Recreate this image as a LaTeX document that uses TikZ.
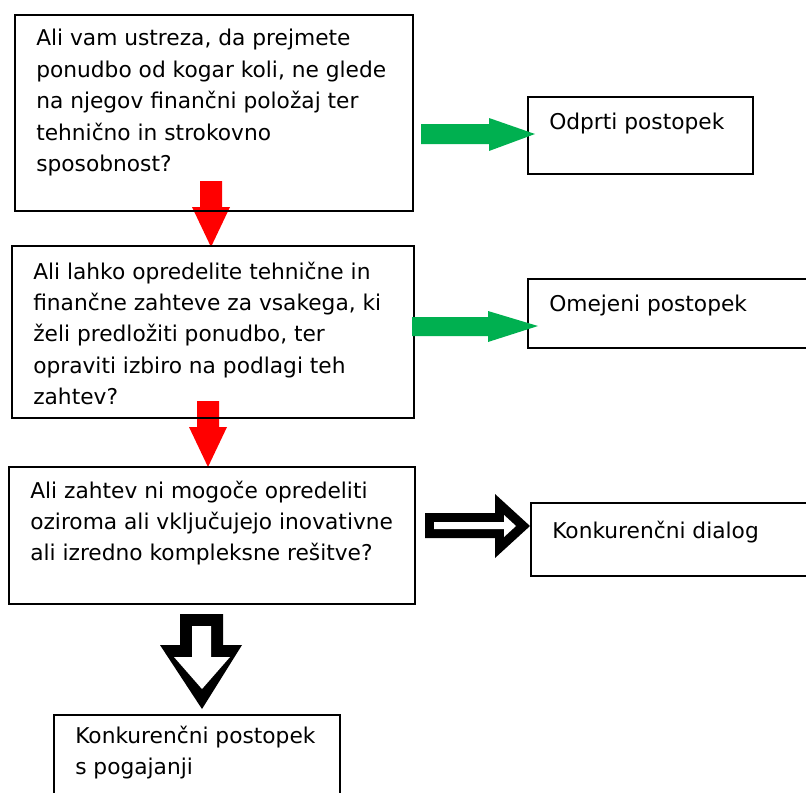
\documentclass[tikz,border=0pt]{standalone}
\usepackage{fontspec}
\setmainfont{DejaVu Sans}
\newcommand\txtlines[1]{\begin{tabular}[t]{@{}l@{}}#1\end{tabular}}
\definecolor{okgreen}{HTML}{00B050}
\definecolor{okred}{HTML}{FF0000}
\begin{document}
\begin{tikzpicture}[x=0.75pt,y=-0.75pt,
  box/.style={draw=black,line width=1.5pt},
  txt/.style={anchor=base west,inner sep=0pt,font=\fontsize{16.3}{23.6}\selectfont},
  greenarrow/.style={fill=okgreen,draw=none},
  redarrow/.style={fill=okred,draw=none}]
\useasboundingbox (0,0) rectangle (806,792);
\clip (0,0) rectangle (806,792);
% red arrows (behind boxes)
\fill[redarrow] (200,181) -- (222,181) -- (222,207) -- (230,207) -- (211,247) -- (192,207) -- (200,207) -- cycle;
\fill[redarrow] (197,401) -- (219,401) -- (219,427) -- (227,427) -- (208,467) -- (189,427) -- (197,427) -- cycle;
% boxes
\draw[box] (15,15) rectangle (413,211);
\draw[box] (528,97) rectangle (753,174);
\draw[box] (12,246) rectangle (414,418);
\draw[box] (528,279) rectangle (812,348);
\draw[box] (9,467) rectangle (415,604);
\draw[box] (531,503) rectangle (812,576);
\draw[box] (54,715) rectangle (340,800);
% texts
\node[txt] (t1) at (36,46) {\txtlines{Ali vam ustreza, da prejmete\\ponudbo od kogar koli, ne glede\\na njegov finančni položaj ter\\tehnično in strokovno\\sposobnost?}};
\node[txt] (t2) at (549,129) {Odprti postopek};
\node[txt] (t3) at (33,279) {\txtlines{Ali lahko opredelite tehnične in\\finančne zahteve za vsakega, ki\\želi predložiti ponudbo, ter\\opraviti izbiro na podlagi teh\\zahtev?}};
\node[txt] (t4) at (549,311) {Omejeni postopek};
\node[txt] (t5) at (30,498) {\txtlines{Ali zahtev ni mogoče opredeliti\\oziroma ali vključujejo inovativne\\ali izredno kompleksne rešitve?}};
\node[txt] (t6) at (552,538) {Konkurenčni dialog};
\node[txt] (t7) at (75,743) {\txtlines{Konkurenčni postopek\\s pogajanji}};
% green arrows
\fill[greenarrow] (421,124) -- (489,124) -- (489,118) -- (535,134) -- (489,151) -- (489,144) -- (421,144) -- cycle;
\fill[greenarrow] (412,317) -- (488,317) -- (488,311) -- (538,326) -- (488,342) -- (488,336) -- (412,336) -- cycle;
% black hollow arrows
\fill[black] (425,513) -- (495,513) -- (495,494) -- (530,526) -- (495,558) -- (495,538) -- (425,538) -- cycle;
\fill[white] (434,522) -- (504,522) -- (504,515) -- (516,526) -- (504,537) -- (504,529) -- (434,529) -- cycle;
\fill[black] (180,614) -- (223,614) -- (223,645) -- (242,645) -- (202,709) -- (160,645) -- (180,645) -- cycle;
\fill[white] (192,626) -- (211,626) -- (211,657) -- (230,657) -- (202,689) -- (174,657) -- (192,657) -- cycle;
\end{tikzpicture}
\end{document}
